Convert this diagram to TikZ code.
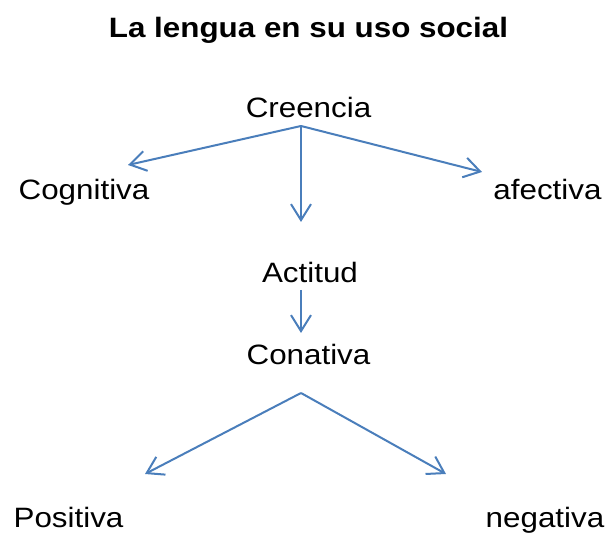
\documentclass[tikz,border=0pt]{standalone}
\usepackage{fontspec}
\setmainfont{Liberation Sans}[FakeStretch=1.12]
\usetikzlibrary{arrows.meta}
\definecolor{linkblue}{HTML}{4A7EBB}
\begin{document}
\begin{tikzpicture}[x=1pt,y=1pt,
  lbl/.style={anchor=base,inner sep=0pt,font=\fontsize{28}{34}\selectfont},
  ttl/.style={anchor=base,inner sep=0pt,font=\fontsize{28}{34}\selectfont\bfseries},
  link/.style={draw=linkblue,line width=2pt,-{Straight Barb[length=16pt,width=20pt]}}]
\useasboundingbox (0,0) rectangle (608,534);
\node[ttl] (title) at (308.5,496.3) {La lengua en su uso social};
\node[lbl] (creencia) at (308.5,416) {Creencia};
\node[lbl] (cognitiva) at (84,334.7) {Cognitiva};
\node[lbl] (afectiva) at (547.5,334.5) {afectiva};
\node[lbl] (actitud) at (310,251) {Actitud};
\node[lbl] (conativa) at (308.5,169) {Conativa};
\node[lbl] (positiva) at (68.5,6) {Positiva};
\node[lbl] (negativa) at (545,6) {negativa};
\coordinate (cs) at (301,408);
\coordinate (ce1) at (128,369);
\coordinate (ce2) at (482,362);
\coordinate (ce3) at (301,312);
\coordinate (as) at (301,244);
\coordinate (ae) at (301,201);
\coordinate (apex) at (301,141);
\coordinate (pe) at (145,60);
\coordinate (ne) at (446,60);
\draw[link] (cs) -- (ce1);
\draw[link] (cs) -- (ce2);
\draw[link] (cs) -- (ce3);
\draw[link] (as) -- (ae);
\draw[link] (apex) -- (pe);
\draw[link] (apex) -- (ne);
\end{tikzpicture}
\end{document}
